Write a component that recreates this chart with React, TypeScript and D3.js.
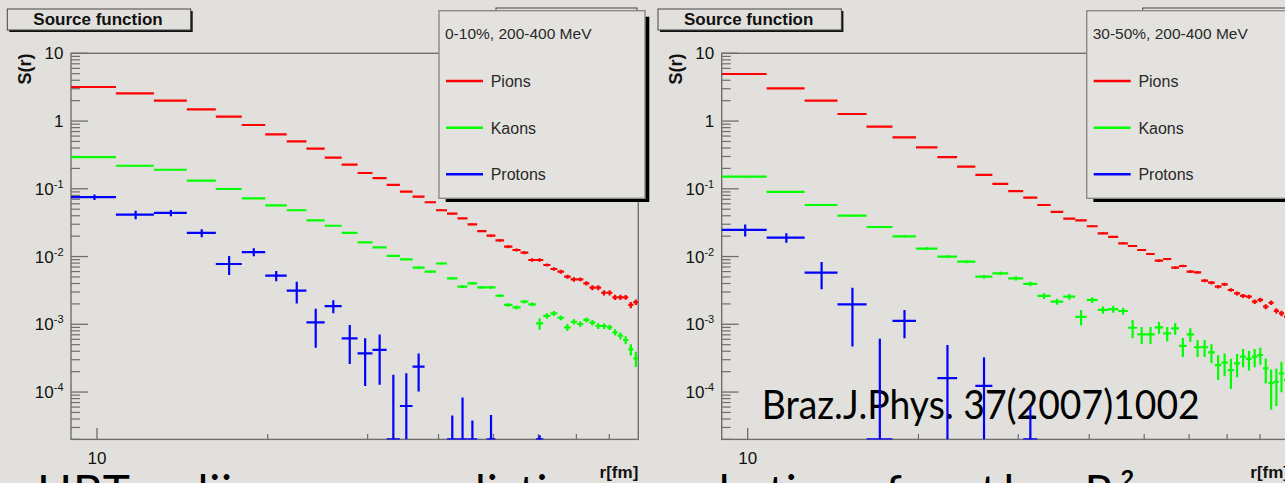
import React from 'react';
import * as d3 from 'd3';

// ---------------- data ----------------
const binEdges = [9, 10.8, 12.6, 14.4, 16.2, 18, 19.8, 21.6, 23.4, 25.2, 27, 28.8, 30.6, 32.4, 34.2, 36, 37.8, 39.6, 41.4, 43.2, 45, 46.8, 48.6, 50.4, 52.2, 54, 55.8, 57.6, 59.4, 61.2, 63, 64.8, 66.6, 68.4, 70.2, 72, 73.8, 75.6, 77.4, 79.2, 81, 82.8, 84.6, 86.4, 88.2, 90];

// Left panel: 0-10%
const leftPions = [3.18, 2.57, 2.0, 1.49, 1.16, 0.875, 0.637, 0.50, 0.391, 0.288, 0.227, 0.171, 0.144, 0.114, 0.0906, 0.0764, 0.0633, 0.0482, 0.043, 0.0367, 0.0299, 0.0238, 0.0203, 0.0173, 0.014, 0.0125, 0.0114, 0.0089, 0.0089, 0.0075, 0.00655, 0.00598, 0.00505, 0.00461, 0.00461, 0.00403, 0.00347, 0.00347, 0.00292, 0.00292, 0.0025, 0.0025, 0.0025, 0.00193, 0.00213];
const leftPionsErr = [0.01, 0.01, 0.008, 0.007, 0.006, 0.005, 0.004, 0.004, 0.003, 0.003, 0.003, 0.002, 0.002, 0.002, 0.002, 0.002, 0.0015, 0.0012, 0.0012, 0.001, 0.0009, 0.0008, 0.0008, 0.0007, 0.0007, 0.0006, 0.0006, 0.0005, 0.0005, 0.0004, 0.0004, 0.0004, 0.00035, 0.00035, 0.0003, 0.0003, 0.0003, 0.0003, 0.00025, 0.00025, 0.00022, 0.00022, 0.0002, 0.0002, 0.0002];
const leftKaons = [0.294, 0.219, 0.191, 0.132, 0.0993, 0.0724, 0.057, 0.0482, 0.0343, 0.0285, 0.0223, 0.0162, 0.0137, 0.0102, 0.00911, 0.00685, 0.00598, 0.0079, 0.00477, 0.00359, 0.00403, 0.00351, 0.0035, 0.00264, 0.00193, 0.00178, 0.00216, 0.00197, 0.00103, 0.00133, 0.00145, 0.00125, 0.000903, 0.00109, 0.00101, 0.00116, 0.00106, 0.000944, 0.000944, 0.000903, 0.000762, 0.000679, 0.000586, 0.000427, 0.000315];
const leftKaonsErr = [0.004, 0.003, 0.0025, 0.002, 0.0015, 0.0012, 0.001, 0.0009, 0.0007, 0.0006, 0.0005, 0.0004, 0.00035, 0.0003, 0.0003, 0.00025, 0.00022, 0.00025, 0.0002, 0.00017, 0.00018, 0.00016, 0.00016, 0.00014, 0.00012, 0.00012, 0.00013, 0.00012, 0.0002, 0.00012, 0.00012, 0.0001, 0.00011, 0.0001, 0.0001, 0.0001, 0.0001, 0.00009, 0.00009, 0.00008, 0.00008, 0.00008, 0.00008, 0.00008, 0.00008];
const leftProtons = [0.0756, 0.0415, 0.044, 0.0223, 0.00776, 0.01166, 0.00523, 0.00313, 0.00107, 0.00186, 0.00062, 0.000373, 0.000418, 0.00001, 0.0000622, 0.000237, null, null, 0.00001, 0.00001, 0.00001, null, 0.00001, null, null, null, null, null, 0.00001, null, null, null, null, null, null, null, null, null, null, null, null, null, null, null, null];
const leftProtonsErr = [0.007, 0.006, 0.0045, 0.003, 0.0024, 0.0016, 0.0009, 0.0011, 0.00062, 0.0004, 0.00036, 0.00025, 0.00029, 0.00017, 0.000127, 0.000135, 0, 0, 0.000035, 0.000073, 0.000028, 0, 0.000036, 0, 0, 0, 0, 0, 0.000013, 0, 0, 0, 0, 0, 0, 0, 0, 0, 0, 0, 0, 0, 0, 0, 0];

// Right panel: 30-50%
const rightPions = [4.95, 3.04, 2.0, 1.27, 0.826, 0.575, 0.41, 0.294, 0.212, 0.161, 0.118, 0.0927, 0.0739, 0.0577, 0.0455, 0.0363, 0.0343, 0.028, 0.022, 0.0195, 0.0157, 0.0143, 0.0125, 0.0109, 0.00869, 0.0092, 0.00686, 0.00725, 0.00598, 0.00585, 0.0044, 0.00411, 0.00359, 0.00389, 0.00321, 0.00286, 0.00262, 0.00256, 0.00216, 0.00229, 0.00182, 0.00208, 0.00158, 0.00145, 0.0013];
const rightPionsErr = [0.015, 0.01, 0.008, 0.006, 0.005, 0.004, 0.003, 0.0025, 0.002, 0.0018, 0.0015, 0.0013, 0.0012, 0.001, 0.0009, 0.0008, 0.0008, 0.0007, 0.0006, 0.0006, 0.0005, 0.0005, 0.00045, 0.0004, 0.00035, 0.00035, 0.0003, 0.0003, 0.00028, 0.00028, 0.00024, 0.00023, 0.00021, 0.00022, 0.0002, 0.00019, 0.00018, 0.00018, 0.00016, 0.00017, 0.00015, 0.00016, 0.00014, 0.00013, 0.00013];
const rightKaons = [0.151, 0.0898, 0.0577, 0.0401, 0.0273, 0.0199, 0.0131, 0.00995, 0.0084, 0.00505, 0.00566, 0.00477, 0.00394, 0.00262, 0.00216, 0.00256, 0.00129, 0.00229, 0.00163, 0.00168, 0.00157, 0.00089, 0.000711, 0.000711, 0.000903, 0.000736, 0.000873, 0.000479, 0.000711, 0.000458, 0.000458, 0.000386, 0.00025, 0.000271, 0.000211, 0.000265, 0.000333, 0.000308, 0.000333, 0.000352, 0.000224, 0.000135, 0.000142, 0.000189, 0.00015];
const rightKaonsErr = [0.003, 0.002, 0.0015, 0.0012, 0.001, 0.0008, 0.0006, 0.0005, 0.00045, 0.00035, 0.00037, 0.00033, 0.0003, 0.00025, 0.00022, 0.00025, 0.00033, 0.00022, 0.0002, 0.0002, 0.00019, 0.00027, 0.0002, 0.0002, 0.00018, 0.00018, 0.00017, 0.00015, 0.00016, 0.00013, 0.00013, 0.00012, 0.0001, 0.0001, 0.0001, 0.0001, 0.0001, 0.0001, 0.0001, 0.0001, 0.00009, 0.00008, 0.00008, 0.00009, 0.00008];
const rightProtons = [0.0247, 0.019, 0.00578, 0.00197, 0.00001, 0.00112, null, 0.00016, null, 0.000123, null, null, 0.00001, null, null, null, null, null, null, null, null, null, null, null, null, null, null, null, null, null, null, null, null, null, null, null, null, null, null, null, null, null, null, null, null];
const rightProtonsErr = [0.005, 0.003, 0.0025, 0.0015, 0.0006, 0.0005, 0, 0.000334, 0, 0.000203, 0, 0, 0.000051, 0, 0, 0, 0, 0, 0, 0, 0, 0, 0, 0, 0, 0, 0, 0, 0, 0, 0, 0, 0, 0, 0, 0, 0, 0, 0, 0, 0, 0, 0, 0, 0];

const legendHeaders = ['0-10%, 200-400 MeV', '30-50%, 200-400 MeV'];
const legendNames = ['Pions', 'Kaons', 'Protons'];
const seriesColors = ['#ff0000', '#00ff00', '#0000ff'];

const yMajorTicks = [10, 1, 0.1, 0.01, 0.001, 0.0001];
const yMajorBase = ['10', '1', '10', '10', '10', '10'];
const yMajorExp = ['', '', '-1', '-2', '-3', '-4'];
const yMinorMult = [2, 3, 4, 5, 6, 7, 8, 9];
const yDecades = [1, 0.1, 0.01, 0.001, 0.0001, 0.00001];
const xMajorTicks = [10];
const xMajorLabels = ['10'];
const xMinorTicks = [20, 30, 40, 50, 60, 70, 80];

const slideWords = ['HBT radii', 'realistic', 'solution for the R²'];

const xDomain: [number, number] = [9, 90];
const yDomain: [number, number] = [2e-5, 10];

// ---------------- layout ----------------
const W = 1285;
const H = 483;
const BG = '#e2e0dc';
const FONT = "'Liberation Sans', Arial, Helvetica, sans-serif";
const FL = 71, FR = 638.3, FT = 53.3, FB = 439.4;

type Series = { values: (number | null)[]; errors: number[]; color: string };

function Panel({ dx, id }: { dx: number; id: string }) {
  const x = d3.scaleLog().domain(xDomain).range([FL + dx, FR + dx]);
  const y = d3.scaleLog().domain(yDomain).range([FB, FT]);
  const tickColor = '#6e6e6e';

  const minorY: number[] = [];
  yDecades.forEach((d) => yMinorMult.forEach((m) => {
    const v = m * d;
    if (v >= yDomain[0] * 0.999 && v < yDomain[1]) minorY.push(v);
  }));

  return (
    <g>
      <defs>
        <clipPath id={`clip-${id}`}>
          <rect x={FL + dx} y={FT - 3} width={FR - FL} height={FB - FT + 3} />
        </clipPath>
      </defs>
      <rect x={FL + dx} y={FT} width={FR - FL} height={FB - FT} fill="none" stroke="#707070" strokeWidth={1.4} />
      {yMajorTicks.map((t) => (
        <line key={`ym${t}`} x1={FL + dx} x2={FL + dx + 17} y1={y(t)} y2={y(t)} stroke={tickColor} strokeWidth={1.3} />
      ))}
      {minorY.map((t, i) => (
        <line key={`yn${i}`} x1={FL + dx} x2={FL + dx + 9} y1={y(t)} y2={y(t)} stroke={tickColor} strokeWidth={1.2} />
      ))}
      {yMajorTicks.map((t, i) => (
        <text key={`yl${t}`} x={FL + dx - 7.5} y={y(t) + 6} textAnchor="end" fontFamily={FONT} fontSize={17} fill="#111">
          {yMajorBase[i]}
          {yMajorExp[i] && (
            <tspan fontSize={11} dy={-6.8}>{yMajorExp[i]}</tspan>
          )}
        </text>
      ))}
      {xMajorTicks.map((t) => (
        <line key={`xm${t}`} x1={x(t)} x2={x(t)} y1={FB} y2={FB - 11.5} stroke={tickColor} strokeWidth={1.3} />
      ))}
      {xMinorTicks.map((t) => (
        <line key={`xn${t}`} x1={x(t)} x2={x(t)} y1={FB} y2={FB - 5.5} stroke={tickColor} strokeWidth={1.2} />
      ))}
      {xMajorTicks.map((t, i) => (
        <text key={`xl${t}`} x={x(t)} y={464} textAnchor="middle" fontFamily={FONT} fontSize={17} fill="#111">{xMajorLabels[i]}</text>
      ))}
      <text x={FR + dx} y={478} textAnchor="end" fontFamily={FONT} fontWeight="bold" fontSize={17} fill="#111">r[fm]</text>
      <text transform={`translate(${31 + dx},69) rotate(-90)`} textAnchor="middle" fontFamily={FONT} fontWeight="bold" fontSize={18} fill="#111">S(r)</text>
      <rect x={9.3 + dx} y={11} width={183.4} height={21} fill="#111" />
      <rect x={7.3 + dx} y={9} width={183.4} height={21} fill={BG} stroke="#444" strokeWidth={1} />
      <text x={98 + dx} y={25.3} textAnchor="middle" fontFamily={FONT} fontWeight="bold" fontSize={17} fill="#111">Source function</text>
    </g>
  );
}

function PanelData({ dx, series, id }: { dx: number; series: Series[]; id: string }) {
  const x = d3.scaleLog().domain(xDomain).range([FL + dx, FR + dx]);
  const y = d3.scaleLog().domain(yDomain).range([FB, FT]);
  const yc = (v: number) => (v <= yDomain[0] ? FB : v >= yDomain[1] ? FT : y(v));
  return (
    <g clipPath={`url(#clip-${id})`}>
      {series.map((s, si) => (
        <g key={si} stroke={s.color} strokeWidth={2.2}>
          {s.values.map((v, i) => {
            if (v == null) return null;
            const lo = binEdges[i];
            const hi = binEdges[i + 1];
            const cx = x((lo + hi) / 2);
            const yy = yc(v);
            const e = s.errors[i];
            return (
              <g key={i}>
                <line x1={x(lo)} x2={x(hi)} y1={yy} y2={yy} />
                {e > 0 && <line x1={cx} x2={cx} y1={yc(v - e)} y2={yc(v + e)} />}
              </g>
            );
          })}
        </g>
      ))}
    </g>
  );
}

function Legend({ ldx, header }: { ldx: number; header: string }) {
  const lx = 439 + ldx;
  const rowY = [81, 127.7, 174.3];
  return (
    <g>
      <rect x={lx + 6.7} y={16.7} width={203.6} height={185.3} fill="#000" />
      <rect x={lx} y={10.7} width={206} height={187.6} fill="#e4e2de" stroke="#8a8a8a" strokeWidth={1.4} />
      <text x={lx + 6} y={38.5} fontFamily={FONT} fontSize={15.5} fill="#2a2a2a">{header}</text>
      {legendNames.map((n, i) => (
        <g key={n}>
          <line x1={lx + 7} x2={lx + 44} y1={rowY[i]} y2={rowY[i]} stroke={seriesColors[i]} strokeWidth={2.6} />
          <text x={lx + 51.7} y={rowY[i] + 6} fontFamily={FONT} fontSize={16} fill="#2a2a2a">{n}</text>
        </g>
      ))}
    </g>
  );
}

export default function App() {
  const leftSeries: Series[] = [
    { values: leftPions, errors: leftPionsErr, color: seriesColors[0] },
    { values: leftKaons, errors: leftKaonsErr, color: seriesColors[1] },
    { values: leftProtons, errors: leftProtonsErr, color: seriesColors[2] },
  ];
  const rightSeries: Series[] = [
    { values: rightPions, errors: rightPionsErr, color: seriesColors[0] },
    { values: rightKaons, errors: rightKaonsErr, color: seriesColors[1] },
    { values: rightProtons, errors: rightProtonsErr, color: seriesColors[2] },
  ];
  const rdx = 650.7;
  const rldx = 647.7;
  const wordX = [37, 410, 660];
  const wordLen = [195, 160, 475];
  return (
    <div style={{ position: 'absolute', left: 0, top: 0 }}>
      <svg width={W} height={H} viewBox={`0 0 ${W} ${H}`} style={{ display: 'block' }}>
        <rect x={0} y={0} width={W} height={H} fill={BG} />
        <Panel dx={0} id="l" />
        <Panel dx={rdx} id="r" />
        <text x={761.7} y={419.3} fontFamily="Lato, 'Open Sans', sans-serif" fontSize={40} fill="#000" textLength={438} lengthAdjust="spacingAndGlyphs">Braz.J.Phys. 37(2007)1002</text>
        <PanelData dx={0} series={leftSeries} id="l" />
        <PanelData dx={rdx} series={rightSeries} id="r" />
        <rect x={496} y={8} width={141} height={60} fill={BG} stroke="#444" strokeWidth={1} />
        <rect x={1142.7} y={8} width={160} height={60} fill={BG} stroke="#444" strokeWidth={1} />
        <Legend ldx={0} header={legendHeaders[0]} />
        <Legend ldx={rldx} header={legendHeaders[1]} />
        {slideWords.map((w, i) => (
          <text key={w} x={wordX[i]} y={508} fontFamily="Lato, 'Open Sans', sans-serif" fontSize={46} fill="#000" textLength={wordLen[i]} lengthAdjust="spacing">{w}</text>
        ))}
      </svg>
    </div>
  );
}
